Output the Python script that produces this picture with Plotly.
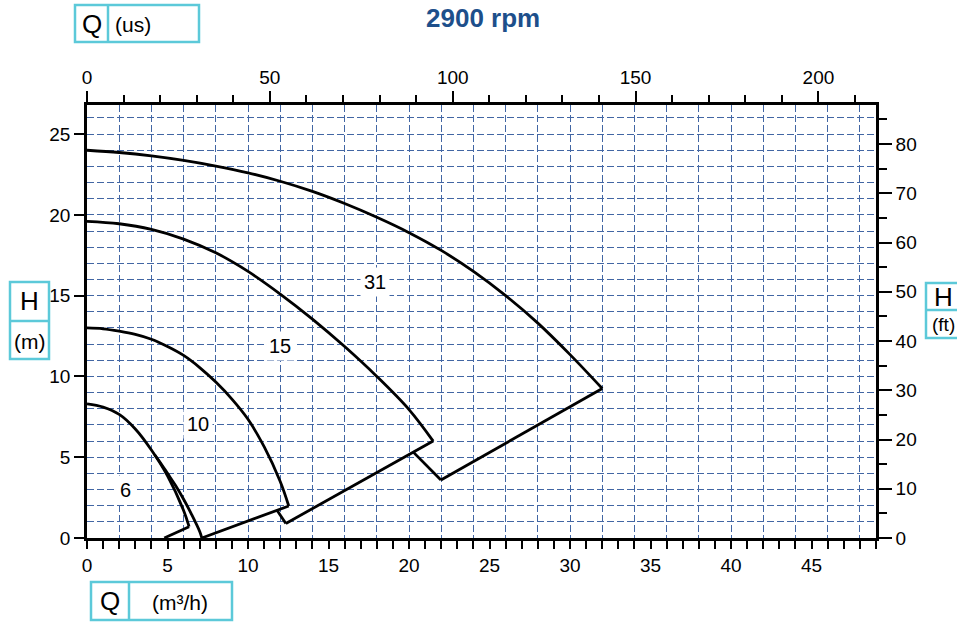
import plotly.graph_objects as go

# ---------------- data ----------------
M3H_TO_USGPM = 4.40287
M_TO_FT = 3.28084
Q_MAX = 49.0      # m3/h, right end of the bottom axis
H_MAX = 26.8      # m, top of the left axis

# pump curves: Q (m3/h) and H (m)
q_31 = [0, 2, 4, 6, 8, 10, 12, 14, 16, 18, 20, 22, 24, 26, 28, 30, 32]
h_31 = [24.0, 23.86, 23.65, 23.37, 23.02, 22.6, 22.08, 21.45, 20.7, 19.85, 18.9,
        17.8, 16.5, 15.0, 13.3, 11.35, 9.25]

q_15 = [0, 2, 4, 6, 8, 10, 12, 14, 16, 18, 20, 21.5]
h_15 = [19.6, 19.45, 19.1, 18.5, 17.65, 16.5, 15.1, 13.55, 11.85, 10.0, 7.95, 6.0]

q_10 = [0, 1, 2, 3, 4, 5, 6, 7, 8, 9, 10, 11, 12, 12.53]
h_10 = [13.0, 12.95, 12.8, 12.6, 12.3, 11.85, 11.3, 10.55, 9.65, 8.6, 7.35, 5.65, 3.5, 1.98]

q_6 = [0, 1, 2, 3, 4, 5, 6, 6.34]
h_6 = [8.3, 8.1, 7.65, 6.75, 5.45, 3.85, 1.7, 0.7]

# lower boundary branch of curve 10
q_10b = [4.2, 4.6, 5.0, 5.5, 6.0, 6.5, 7.0, 7.13]
h_10b = [5.15, 4.6, 4.0, 3.25, 2.4, 1.45, 0.4, 0.0]

# straight end lines
q_end6 = [6.34, 4.8]
h_end6 = [0.7, 0.0]
q_lineA = [7.13, 12.53]
h_lineA = [0.0, 1.98]
q_short1 = [11.81, 12.35]
h_short1 = [1.7, 0.9]
q_lineB = [12.35, 21.5]
h_lineB = [0.9, 6.0]
q_short2 = [20.28, 21.98]
h_short2 = [5.3, 3.59]
q_lineC = [21.98, 32.0]
h_lineC = [3.59, 9.25]

# curve labels
label_text = ["31", "15", "10", "6"]
label_q = [17.9, 12.0, 6.9, 2.36]
label_h = [15.84, 11.88, 7.05, 2.97]

# axis ticks
x_ticks = list(range(0, 50, 5))
y_ticks = list(range(0, 26, 5))
x2_ticks = list(range(0, 216, 50))
y2_ticks = list(range(0, 88, 10))

# ---------------- styling ----------------
W, H = 957, 622
L, R, T, B = 87, 876, 105, 538
FONT = "Liberation Sans, Arial, sans-serif"
GRID = "rgb(66,102,164)"
BOX = "#5cc9d9"
LINE_W = 2.8


def px(x):
    return (x - L) / (R - L)


def py(y):
    return (B - y) / (B - T)


fig = go.Figure()

curves = [(q_31, h_31), (q_15, h_15), (q_10, h_10), (q_6, h_6), (q_10b, h_10b)]
for q, h in curves:
    fig.add_trace(go.Scatter(x=q, y=h, mode="lines",
                             line=dict(color="black", width=LINE_W, shape="spline", smoothing=1.0),
                             hoverinfo="skip", showlegend=False))

lines = [(q_end6, h_end6), (q_lineA, h_lineA), (q_short1, h_short1),
         (q_lineB, h_lineB), (q_short2, h_short2), (q_lineC, h_lineC)]
for q, h in lines:
    fig.add_trace(go.Scatter(x=q, y=h, mode="lines",
                             line=dict(color="black", width=LINE_W),
                             hoverinfo="skip", showlegend=False))

# transparent copies of curve 31 so that the secondary (US gpm / ft) axes and
# the grid axes are drawn
fig.add_trace(go.Scatter(x=[q * M3H_TO_USGPM for q in q_31], y=[h * M_TO_FT for h in h_31],
                         xaxis="x2", yaxis="y2", mode="lines", opacity=0,
                         line=dict(width=0), hoverinfo="skip", showlegend=False))
fig.add_trace(go.Scatter(x=q_31, y=h_31, xaxis="x3", yaxis="y3", mode="lines", opacity=0,
                         line=dict(width=0), hoverinfo="skip", showlegend=False))

for t, q, h in zip(label_text, label_q, label_h):
    fig.add_annotation(x=q, y=h, xref="x", yref="y", text=t, showarrow=False,
                       font=dict(family=FONT, size=20, color="black"),
                       bgcolor="white", borderpad=3)

tickfont = dict(family=FONT, size=19, color="black")
axis_common = dict(showgrid=False, zeroline=False, showline=True, linecolor="black",
                   linewidth=2.6, ticks="outside", tickcolor="black", tickwidth=2,
                   tickfont=tickfont, fixedrange=True)

fig.update_layout(
    width=W, height=H, autosize=False,
    margin=dict(l=L, r=W - R, t=T, b=H - B, pad=0),
    paper_bgcolor="white", plot_bgcolor="white",
    showlegend=False,
    xaxis=dict(range=[0, Q_MAX], tickvals=x_ticks, ticklen=8,
               minor=dict(dtick=1, tick0=0, ticks="outside", ticklen=8, tickwidth=2,
                          tickcolor="black", showgrid=False),
               **axis_common),
    yaxis=dict(range=[0, H_MAX], tickvals=y_ticks, ticklen=10, **axis_common),
    xaxis2=dict(range=[0, Q_MAX * M3H_TO_USGPM], overlaying="x", side="top", anchor="y",
                tickvals=x2_ticks, ticklen=11,
                minor=dict(dtick=10, tick0=0, ticks="outside", ticklen=7, tickwidth=2,
                           tickcolor="black", showgrid=False),
                **axis_common),
    yaxis2=dict(range=[0, H_MAX * M_TO_FT], overlaying="y", side="right", anchor="x",
                tickvals=y2_ticks, ticklen=13,
                minor=dict(dtick=5, tick0=0, ticks="outside", ticklen=8, tickwidth=2,
                           tickcolor="black", showgrid=False),
                **axis_common),
    xaxis3=dict(range=[0, Q_MAX], overlaying="x", anchor="y", dtick=2, tick0=0,
                showgrid=True, gridcolor=GRID, gridwidth=1, griddash="7px,3px",
                showticklabels=False, ticks="", showline=False, zeroline=False, fixedrange=True),
    yaxis3=dict(range=[0, H_MAX], overlaying="y", anchor="x", dtick=1, tick0=0,
                showgrid=True, gridcolor=GRID, gridwidth=1, griddash="7px,3px",
                showticklabels=False, ticks="", showline=False, zeroline=False, fixedrange=True),
)

# title
fig.add_annotation(x=px(483), y=py(18), xref="paper", yref="paper", showarrow=False,
                   text="<b>2900 rpm</b>", xanchor="center", yanchor="middle",
                   font=dict(family="Liberation Sans, Arial, sans-serif", size=26, color="#1d4f8b"))

# label boxes (pixel coordinates converted to paper)
boxes = [
    # (x0, y0, x1, y1)
    (75, 5, 199, 42), (91, 582, 232, 620), (10, 282, 49, 359), (926, 283, 975, 338),
]
dividers = [
    (108, 5, 108, 42), (129, 582, 129, 620), (10, 321, 49, 321), (926, 310, 975, 310),
]
for x0, y0, x1, y1 in boxes:
    fig.add_shape(type="rect", xref="paper", yref="paper", x0=px(x0), x1=px(x1),
                  y0=py(y1), y1=py(y0), line=dict(color=BOX, width=2.5), layer="above")
for x0, y0, x1, y1 in dividers:
    fig.add_shape(type="line", xref="paper", yref="paper", x0=px(x0), x1=px(x1),
                  y0=py(y0), y1=py(y1), line=dict(color=BOX, width=2.5), layer="above")

box_texts = [
    ("Q", 91.5, 24, 26), ("(us)", 133, 25, 21),
    ("Q", 110, 601, 26), ("(m³/h)", 180, 602, 21),
    ("H", 29, 301, 26), ("(m)", 29, 341, 21),
    ("H", 943, 297, 26), ("(ft)", 943, 324, 19),
]
for t, x, y, s in box_texts:
    fig.add_annotation(x=px(x), y=py(y), xref="paper", yref="paper", text=t,
                       showarrow=False, xanchor="center", yanchor="middle",
                       font=dict(family=FONT, size=s, color="black"))

fig.write_html("out.html", config={"displayModeBar": False},
               post_script="document.body.style.margin='0px';")
